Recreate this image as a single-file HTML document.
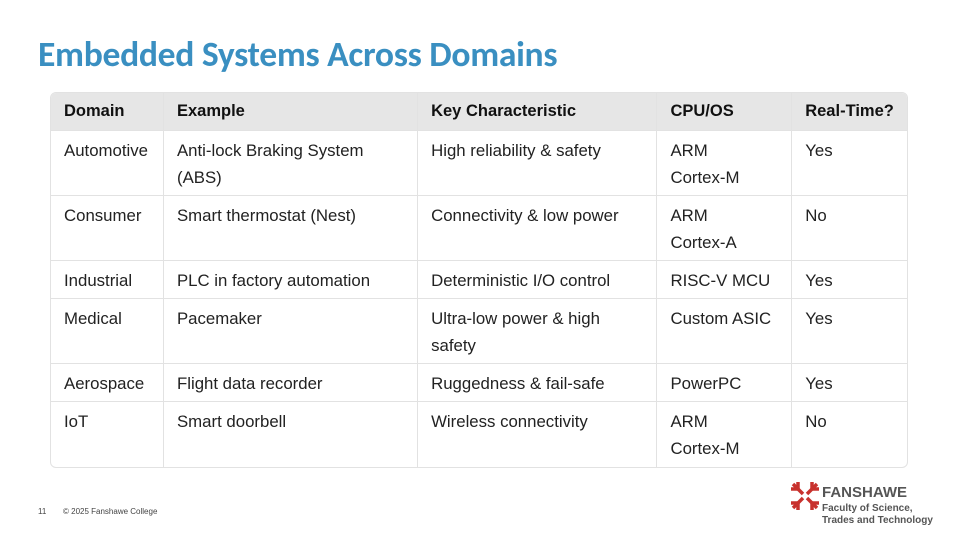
<!DOCTYPE html>
<html><head><meta charset="utf-8"><style>
body{margin:0;width:960px;height:540px;background:#fff;position:relative;overflow:hidden;font-family:"Liberation Sans",sans-serif}
.title{position:absolute;left:38px;top:32px;font-size:35.6px;font-weight:bold;color:#3a8fc1;letter-spacing:-0.3px;font-family:"Carlito","Liberation Sans",sans-serif}
table{position:absolute;left:50px;top:92px;width:858px;border-collapse:separate;border-spacing:0;border:1px solid #e2e2e2;border-radius:6px;overflow:hidden;font-size:16.8px;color:#222}
td,th{text-align:left;vertical-align:top;padding:6px 13px 0 13px;line-height:27px;border-right:1px solid #e2e2e2;border-bottom:1px solid #e2e2e2;box-sizing:border-box}
th{background:#e6e6e6;font-weight:bold;height:38px;padding-top:5px;color:#111;font-size:16.5px}
td:last-child,th:last-child{border-right:none}
tr:last-child td{border-bottom:none}
.h2{height:65px}.h1{height:38px}
.foot{position:absolute;top:507px;font-size:8px;color:#444}
</style></head><body>
<div class="title">Embedded Systems Across Domains</div>
<table>
<colgroup><col style="width:113px"><col style="width:255px"><col style="width:240px"><col style="width:135px"><col style="width:115px"></colgroup>
<tr><th>Domain</th><th>Example</th><th>Key Characteristic</th><th>CPU/OS</th><th>Real-Time?</th></tr>
<tr class="h2"><td>Automotive</td><td>Anti-lock Braking System<br>(ABS)</td><td>High reliability &amp; safety</td><td>ARM<br>Cortex-M</td><td>Yes</td></tr>
<tr class="h2"><td>Consumer</td><td>Smart thermostat (Nest)</td><td>Connectivity &amp; low power</td><td>ARM<br>Cortex-A</td><td>No</td></tr>
<tr class="h1"><td>Industrial</td><td>PLC in factory automation</td><td>Deterministic I/O control</td><td>RISC-V MCU</td><td>Yes</td></tr>
<tr class="h2"><td>Medical</td><td>Pacemaker</td><td>Ultra-low power &amp; high<br>safety</td><td>Custom ASIC</td><td>Yes</td></tr>
<tr class="h1"><td>Aerospace</td><td>Flight data recorder</td><td>Ruggedness &amp; fail-safe</td><td>PowerPC</td><td>Yes</td></tr>
<tr class="h2"><td>IoT</td><td>Smart doorbell</td><td>Wireless connectivity</td><td>ARM<br>Cortex-M</td><td>No</td></tr>
</table>
<div class="foot" style="left:38px">11</div>
<div class="foot" style="left:63px">© 2025 Fanshawe College</div>
<svg style="position:absolute;left:790px;top:481px" width="30" height="30" viewBox="0 0 30 30">
<g stroke="#c8322e" stroke-width="3.5" fill="none">
<path d="M3 3 L13 13 M27 3 L17 13 M3 27 L13 17 M27 27 L17 17"/>
<path d="M8 1 L8 8 L1 8 M22 1 L22 8 L29 8 M1 22 L8 22 L8 29 M29 22 L22 22 L22 29"/>
</g></svg>
<div style="position:absolute;left:822px;top:484px;font-size:15px;font-weight:bold;color:#555">FANSHAWE</div>
<div style="position:absolute;left:822px;top:503px;font-size:10px;font-weight:bold;color:#555;line-height:12px">Faculty of Science,<br>Trades and Technology</div>
</body></html>
